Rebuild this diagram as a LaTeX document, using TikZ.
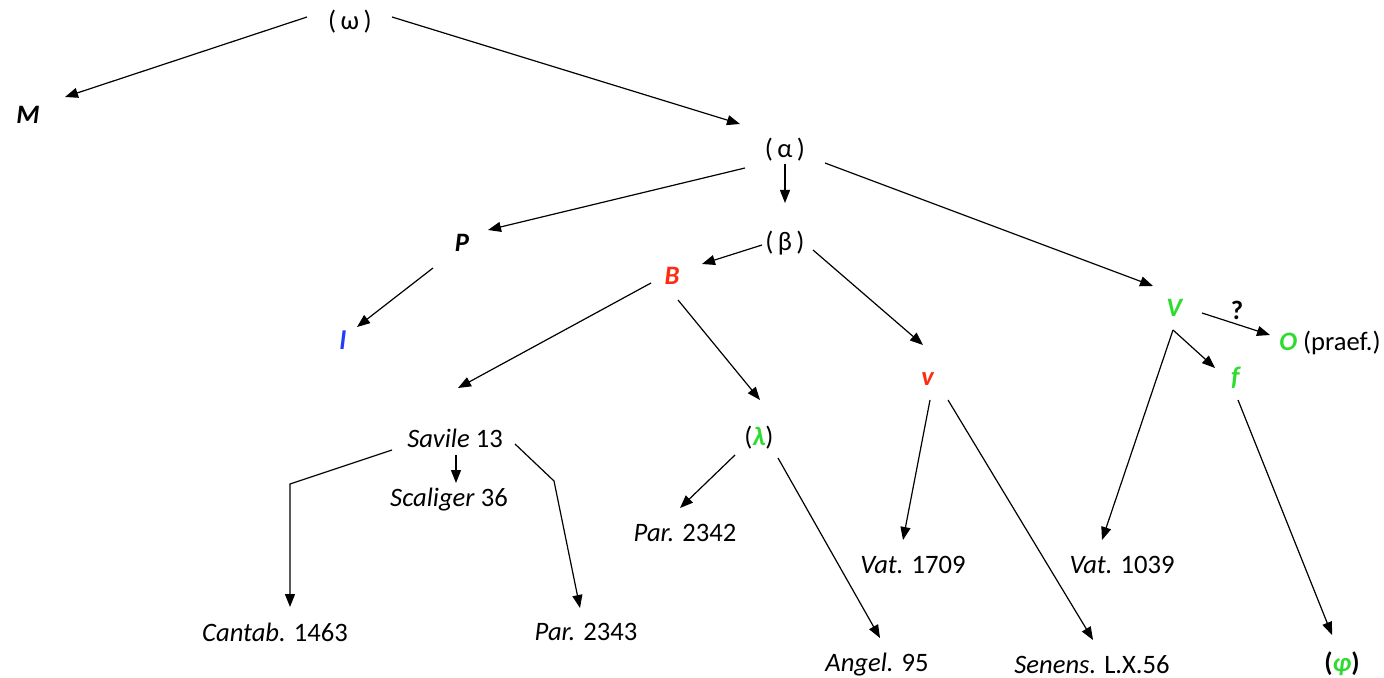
\documentclass[tikz,border=0pt]{standalone}
\usepackage{fontspec}
\setmainfont{Carlito}
\usetikzlibrary{arrows.meta}
\definecolor{sgreen}{HTML}{2EDB2E}
\definecolor{sred}{HTML}{FF2A10}
\definecolor{sblue}{HTML}{1F3CFF}
\tikzset{
 lbl/.style={inner sep=0pt, font=\fontsize{13.3}{16}\selectfont},
 arr/.style={-{Triangle[length=6.5pt,width=5pt]}, line width=0.6pt},
 ln/.style={line width=0.6pt}
}
\newcommand{\sig}[1]{\textbf{\textit{#1}}}
\begin{document}
\begin{tikzpicture}[x=0.5pt,y=-0.5pt]
\useasboundingbox (0,0) rectangle (1384,678);
% nodes
\node[lbl] (w) at (350,22) {(\,ω\,)};
\node[lbl] (M) at (28,115) {\sig{M}};
\node[lbl] (a) at (785,150) {(\,α\,)};
\node[lbl] (P) at (462,243) {\sig{P}};
\node[lbl] (b) at (785,243) {(\,β\,)};
\node[lbl,text=sred] (B) at (672,276) {\sig{B}};
\node[lbl,text=sgreen] (V) at (1175,308) {\sig{V}};
\node[lbl] (q) at (1237,310) {\textbf{?}};
\node[lbl] (O) at (1330,343) {\textcolor{sgreen}{\sig{O}} (praef.)};
\node[lbl,text=sblue] (I) at (343,340) {\sig{l}};
\node[lbl,text=sred] (v) at (928,379) {\sig{v}};
\node[lbl,text=sgreen] (f) at (1236,378) {\sig{f}};
\node[lbl] (sav) at (455,438) {\textit{Savile} 13};
\node[lbl] (lam) at (759,438) {(\textcolor{sgreen}{\sig{λ}})};
\node[lbl] (sca) at (449,500) {\textit{Scaliger} 36};
\node[lbl] (p2342) at (685,533) {\textit{Par.} 2342};
\node[lbl] (v1709) at (913,565) {\textit{Vat.} 1709};
\node[lbl] (v1039) at (1122,565) {\textit{Vat.} 1039};
\node[lbl] (cant) at (275,632) {\textit{Cantab.} 1463};
\node[lbl] (p2343) at (586,632) {\textit{Par.} 2343};
\node[lbl] (ang) at (877,665) {\textit{Angel.} 95};
\node[lbl] (sen) at (1092,665) {\textit{Senens.} L.X.56};
\node[lbl] (phi) at (1342,664) {\textbf{(}\textcolor{sgreen}{\sig{φ}}\textbf{)}};
% connectors
\draw[arr] ([shift={(-43,-5)}]w.center) -- ([shift={(37,-18)}]M.center);
\draw[arr] ([shift={(42,-5)}]w.center) -- ([shift={(-45,-26)}]a.center);
\draw[arr] ([shift={(-40,18)}]a.center) -- ([shift={(26,-13)}]P.center);
\draw[arr] ([shift={(0,14)}]a.center) -- ([shift={(0,-40)}]b.center);
\draw[arr] ([shift={(40,13)}]a.center) -- ([shift={(-22,-22)}]V.center);
\draw[arr] ([shift={(-23,2)}]b.center) -- ([shift={(30,-12)}]B.center);
\draw[arr] ([shift={(28,7)}]b.center) -- ([shift={(-5,-34)}]v.center);
\draw[arr] ([shift={(-29,25)}]P.center) -- ([shift={(14,-13)}]I.center);
\draw[arr] ([shift={(-21,7)}]B.center) -- ([shift={(3,-50)}]sav.center);
\draw[arr] ([shift={(6,24)}]B.center) -- ([shift={(1,-38)}]lam.center);
\draw[arr] ([shift={(27,5)}]V.center) -- ([shift={(-60,-8)}]O.center);
\draw[arr] ([shift={(-2,22)}]V.center) -- ([shift={(-21,-10)}]f.center);
\draw[arr] ([shift={(-2,22)}]V.center) -- ([shift={(-20,-25)}]v1039.center);
\draw[arr] ([shift={(2,22)}]f.center) -- ([shift={(-10,-29)}]phi.center);
\draw[arr] ([shift={(2,21)}]v.center) -- ([shift={(-10,-25)}]v1709.center);
\draw[arr] ([shift={(20,21)}]v.center) -- ([shift={(1,-25)}]sen.center);
\draw[arr] ([shift={(-24,17)}]lam.center) -- ([shift={(-5,-25)}]p2342.center);
\draw[arr] ([shift={(19,20)}]lam.center) -- ([shift={(3,-27)}]ang.center);
\draw[arr] ([shift={(1,17)}]sav.center) -- ([shift={(7,-17)}]sca.center);
\draw[arr] ([shift={(-63,12)}]sav.center) -- ++(-102,34) -- ([shift={(15,-25)}]cant.center);
\draw[arr] ([shift={(60,6)}]sav.center) -- ++(39,37) -- ([shift={(-6,-24)}]p2343.center);
\end{tikzpicture}
\end{document}
